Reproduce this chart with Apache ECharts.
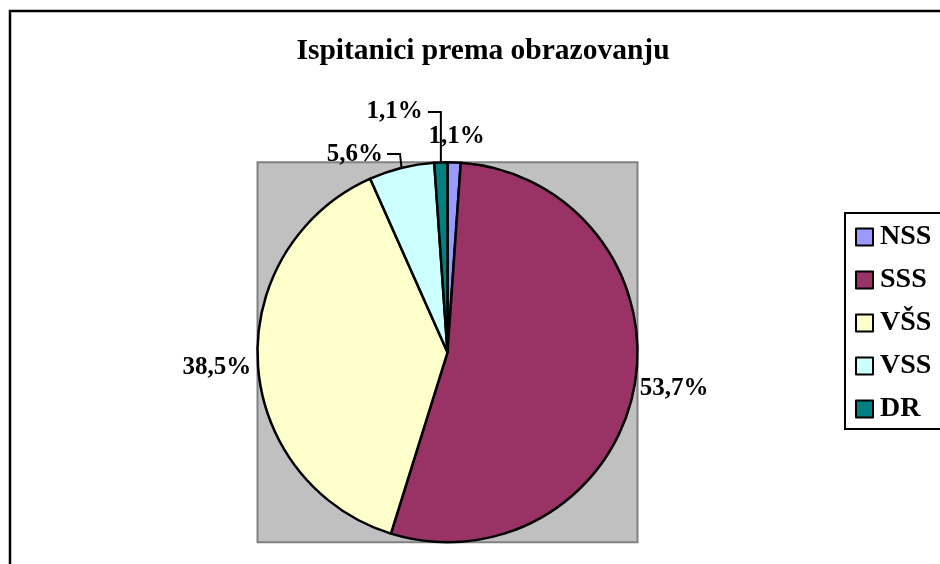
<!DOCTYPE html>
<html>
<head>
<meta charset="utf-8">
<script src="https://cdn.jsdelivr.net/npm/echarts@6/dist/echarts.min.js"></script>
<style>
  html, body { margin: 0; padding: 0; background: #fff; }
  #chart { width: 940px; height: 564px; }
</style>
</head>
<body>
<div id="chart"></div>
<script>
var categories = ["NSS", "SSS", "VŠS", "VSS", "DR"];
var counts = [3, 145, 104, 15, 3];
var colors = ["#9999FF", "#993366", "#FFFFCC", "#CCFFFF", "#008080"];
var showLeader = [false, false, false, true, true];

var FONT = "'Liberation Serif', 'Times New Roman', serif";
var cx = 447.5, cy = 352.3, r = 190;

// label offsets from the slice's edge point (Excel-like placement)
var labelOffsets = [
  { dx: 2.5, dy: -26, align: "center" },
  { dx: 40, dy: 1, align: "center" },
  { dx: -41, dy: 4, align: "center" },
  { dx: -18.5, dy: -13, align: "right", line: [[-1.5, -14], [-14.5, -14]] },
  { dx: -18, dy: -50.5, align: "right", line: [[0, -50.4], [-13, -50.4]] }
];

var total = counts.reduce(function (s, v) { return s + v; }, 0);

function edgePoint(i) {
  var before = 0;
  for (var k = 0; k < i; k++) before += counts[k];
  var mid = (before + counts[i] / 2) / total * Math.PI * 2;
  return [cx + r * Math.sin(mid), cy - r * Math.cos(mid)];
}

var chart = echarts.init(document.getElementById("chart"));

var option = {
  backgroundColor: "#fff",
  animation: false,
  title: {
    text: "Ispitanici prema obrazovanju",
    left: 478,
    textAlign: "center",
    top: 31,
    textStyle: { fontFamily: FONT, fontSize: 29.5, fontWeight: "bold", color: "#000" }
  },
  legend: {
    orient: "vertical",
    left: 845,
    top: 213,
    padding: [10, 30, 6, 10],
    borderColor: "#000",
    borderWidth: 2,
    backgroundColor: "#fff",
    icon: "rect",
    itemWidth: 17,
    itemHeight: 17,
    itemGap: 15,
    itemStyle: { borderColor: "#000", borderWidth: 2 },
    textStyle: { fontFamily: FONT, fontSize: 28, fontWeight: "bold", color: "#000", padding: [0, 0, 0, 2] },
    data: categories
  },
  graphic: {
    elements: [
      {
        type: "rect",
        z: -10,
        shape: { x: 10, y: 11, width: 1000, height: 600 },
        style: { fill: "none", stroke: "#000", lineWidth: 2.5 }
      },
      {
        type: "rect",
        z: -5,
        shape: { x: cx - r, y: cy - r, width: 2 * r, height: 2 * r },
        style: { fill: "#C0C0C0", stroke: "#808080", lineWidth: 2 }
      }
    ]
  },
  series: [
    {
      type: "pie",
      center: [cx, cy],
      radius: r,
      startAngle: 90,
      clockwise: true,
      avoidLabelOverlap: false,
      itemStyle: { borderColor: "#000", borderWidth: 2.5 },
      emphasis: { disabled: true },
      label: {
        show: true,
        position: "outside",
        fontFamily: FONT,
        fontSize: 25,
        fontWeight: "bold",
        color: "#000",
        formatter: function (p) {
          return (Math.round(p.value / total * 1000) / 10).toFixed(1).replace(".", ",") + "%";
        }
      },
      labelLine: {
        show: true,
        lineStyle: { color: "#000", width: 2 }
      },
      labelLayout: function (params) {
        var i = params.dataIndex;
        var o = labelOffsets[i];
        var p = edgePoint(i);
        var res = {
          x: p[0] + o.dx,
          y: p[1] + o.dy,
          align: o.align,
          verticalAlign: "middle"
        };
        if (o.line) {
          res.labelLinePoints = [p].concat(o.line.map(function (d) {
            return [p[0] + d[0], p[1] + d[1]];
          }));
        }
        return res;
      },
      data: categories.map(function (name, i) {
        return {
          name: name,
          value: counts[i],
          itemStyle: { color: colors[i] },
          labelLine: { show: showLeader[i] }
        };
      })
    }
  ]
};

chart.setOption(option);
</script>
</body>
</html>
